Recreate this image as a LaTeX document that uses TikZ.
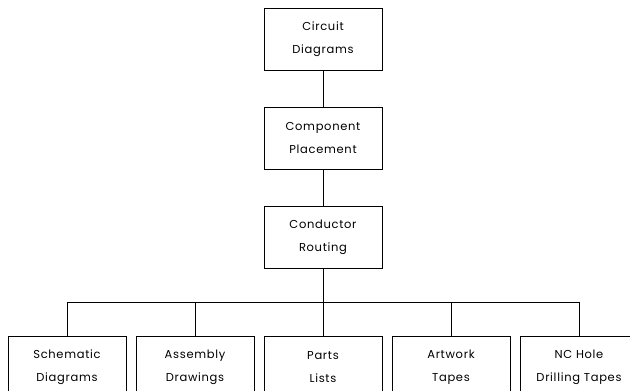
\documentclass[tikz,border=0pt]{standalone}
\usepackage{fontspec}
\setmainfont{Poppins}[LetterSpace=6]
\usetikzlibrary{positioning}
\tikzset{flow box/.style={draw,line width=1pt,minimum width=118pt,minimum height=62pt,
  align=center,inner sep=0pt,font=\fontsize{11.5}{23}\selectfont},
  flow line/.style={line width=1pt}}

\begin{document}
\begin{tikzpicture}[node distance=36pt and 9pt]
\clip (0,0) rectangle (630pt,-391pt);
% main chain
\node[flow box] (circuit) at (323pt,-39pt) {Circuit\\Diagrams};
\node[flow box,below=of circuit] (placement) {Component\\Placement};
\node[flow box,below=of placement] (routing) {Conductor\\Routing};
% outputs
\node[flow box,below=67pt of routing] (parts) {Parts\\Lists};
\node[flow box,left=of parts] (assembly) {Assembly\\Drawings};
\node[flow box,left=of assembly] (schematic) {Schematic\\Diagrams};
\node[flow box,right=of parts] (artwork) {Artwork\\Tapes};
\node[flow box,right=of artwork] (ncdrill) {NC Hole\\Drilling Tapes};
% links
\draw[flow line] (circuit) -- (placement);
\draw[flow line] (placement) -- (routing);
\draw[flow line] (routing) -- (parts);
\coordinate[below=34pt of routing.south] (bus);
\foreach\n in {schematic,assembly,artwork,ncdrill}
  \draw[flow line] (bus) -| (\n.north);
\end{tikzpicture}
\end{document}
